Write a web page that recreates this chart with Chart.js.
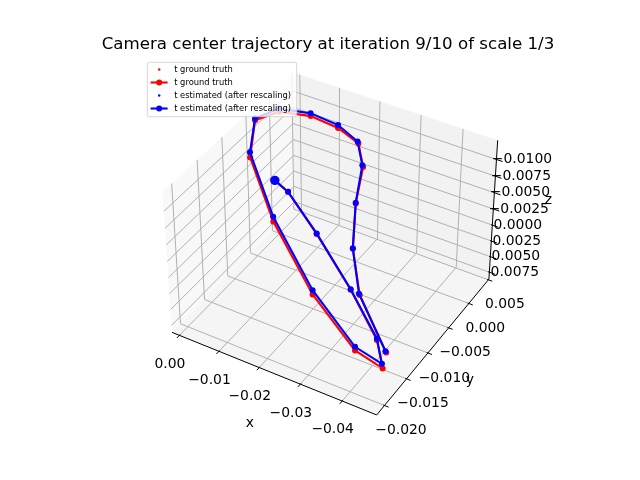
<!DOCTYPE html>
<html>
<head>
<meta charset="utf-8">
<script src="https://cdn.jsdelivr.net/npm/chart.js@4.4.1/dist/chart.umd.min.js"></script>
<style>
  html, body { margin: 0; padding: 0; background: #ffffff; }
  #wrap { width: 640px; height: 480px; }
</style>
</head>
<body>
<div id="wrap"><canvas id="chart" width="640" height="480"></canvas></div>
<script>
// camera centers, one entry per frame (x, y, z in world units)
const gtX = [-0.00827, -0.01152, -0.02006, -0.03073, -0.03946, -0.04271, -0.03662, -0.02463, -0.01145, -0.00156,
             0.00091, -0.00210, -0.00771, -0.01337, -0.01837, -0.02139, -0.02362, -0.02735, -0.03269, -0.04216];
const gtY = [-0.00775, -0.00775, -0.00916, -0.01135, -0.01356, -0.01528, -0.01580, -0.01419, -0.01094, -0.00721,
             -0.00393, -0.00127, 0.00068, 0.00173, 0.00178, 0.00007, -0.00367, -0.00776, -0.01113, -0.01399];
const gtZ = [-0.00707, -0.00604, -0.00256, 0.00192, 0.00590, 0.00815, 0.00645, 0.00195, -0.00377, -0.00870,
             -0.01159, -0.01175, -0.01098, -0.00969, -0.00836, -0.00659, -0.00411, -0.00094, 0.00243, 0.00683];

const estX = [-0.00827, -0.01152, -0.02006, -0.03073, -0.03946, -0.04252, -0.03662, -0.02463, -0.01145, -0.00156,
              0.00091, -0.00210, -0.00771, -0.01337, -0.01817, -0.02119, -0.02362, -0.02735, -0.03250, -0.04197];
const estY = [-0.00775, -0.00775, -0.00916, -0.01135, -0.01356, -0.01528, -0.01580, -0.01419, -0.01094, -0.00721,
              -0.00393, -0.00127, 0.00068, 0.00173, 0.00178, 0.00007, -0.00367, -0.00776, -0.01113, -0.01399];
const estZ = [-0.00707, -0.00604, -0.00264, 0.00182, 0.00566, 0.00748, 0.00587, 0.00128, -0.00449, -0.00946,
              -0.01186, -0.01222, -0.01139, -0.01012, -0.00862, -0.00682, -0.00422, -0.00102, 0.00227, 0.00667];

// axis limits (x and z are inverted) and ticks
const xLim = [0.0009, -0.0471];
const yLim = [-0.0212, 0.0046];
const zLim = [0.0082, -0.0124];

const xTicks = [0.00, -0.01, -0.02, -0.03, -0.04];
const xTickLabels = ['0.00', '\u22120.01', '\u22120.02', '\u22120.03', '\u22120.04'];
const yTicks = [-0.020, -0.015, -0.010, -0.005, 0.000, 0.005];
const yTickLabels = ['\u22120.020', '\u22120.015', '\u22120.010', '\u22120.005', '0.000', '0.005'];
const zTicks = [-0.0100, -0.0075, -0.0050, -0.0025, 0.0000, 0.0025, 0.0050, 0.0075];
const zTickLabels = ['\u22120.0100', '\u22120.0075', '\u22120.0050', '\u22120.0025', '0.0000', '0.0025', '0.0050', '0.0075'];

const legendLabels = ['t ground truth', 't ground truth', 't estimated (after rescaling)', 't estimated (after rescaling)'];
const titleText = 'Camera center trajectory at iteration 9/10 of scale 1/3';

// view of the 3d box
const VIEW_ELEV = 38.5, VIEW_AZIM = -59.5, VIEW_DIST = 10;
const LO = -1 / 48, HI = 1 + 1 / 48;
const FONT = '"DejaVu Sans", "Liberation Sans", sans-serif';

function buildCamera() {
  const n = Math.hypot(4, 4, 3);
  const box = [4, 4, 3].map(a => a * 1.8294640721620434 / n);
  const el = VIEW_ELEV * Math.PI / 180, az = VIEW_AZIM * Math.PI / 180;
  const w = [Math.cos(el) * Math.cos(az), Math.cos(el) * Math.sin(az), Math.sin(el)];
  const eye = box.map((b, i) => b / 2 + VIEW_DIST * w[i]);
  const ul = Math.hypot(w[0], w[1]);
  const u = [-w[1] / ul, w[0] / ul, 0];
  const v = [w[1] * u[2] - w[2] * u[1], w[2] * u[0] - w[0] * u[2], w[0] * u[1] - w[1] * u[0]];
  return { box, eye, u, v, w };
}
const cam = buildCamera();

// normalised box coords (0..1 per axis) -> 2d view coords
function projectNorm(a, b, c) {
  const p = [a * cam.box[0] - cam.eye[0], b * cam.box[1] - cam.eye[1], c * cam.box[2] - cam.eye[2]];
  const dot = q => q[0] * p[0] + q[1] * p[1] + q[2] * p[2];
  const depth = -dot(cam.w);
  return { x: dot(cam.u) / depth, y: dot(cam.v) / depth };
}
const nx = x => (x - xLim[0]) / (xLim[1] - xLim[0]);
const ny = y => (y - yLim[0]) / (yLim[1] - yLim[0]);
const nz = z => (z - zLim[0]) / (zLim[1] - zLim[0]);
const projectData = (x, y, z) => projectNorm(nx(x), ny(y), nz(z));

const gtPts = gtX.map((x, i) => projectData(x, gtY[i], gtZ[i]));
const estPts = estX.map((x, i) => projectData(x, estY[i], estZ[i]));

const RED = '#ff0000', BLUE = '#0000ff';

const frame3d = {
  id: 'frame3d',
  beforeDatasetsDraw(chart) {
    const ctx = chart.ctx;
    const sx = chart.scales.x, sy = chart.scales.y;
    const scr = (a, b, c) => {
      const p = projectNorm(a, b, c);
      return [sx.getPixelForValue(p.x), sy.getPixelForValue(p.y)];
    };
    const path = pts => {
      ctx.beginPath();
      pts.forEach((q, i) => {
        const p = scr(q[0], q[1], q[2]);
        if (i === 0) ctx.moveTo(p[0], p[1]); else ctx.lineTo(p[0], p[1]);
      });
    };
    ctx.save();

    // back panes
    const panes = [
      ['rgba(242,242,242,0.5)', [[LO, LO, LO], [LO, HI, LO], [LO, HI, HI], [LO, LO, HI]]],
      ['rgba(230,230,230,0.5)', [[LO, HI, LO], [HI, HI, LO], [HI, HI, HI], [LO, HI, HI]]],
      ['rgba(236,236,236,0.5)', [[LO, LO, LO], [HI, LO, LO], [HI, HI, LO], [LO, HI, LO]]]
    ];
    panes.forEach(([color, pts]) => {
      path(pts);
      ctx.closePath();
      ctx.fillStyle = color;
      ctx.fill();
    });

    // grid
    ctx.strokeStyle = '#b0b0b0';
    ctx.lineWidth = 1;
    xTicks.forEach(t => { const a = nx(t); path([[a, LO, LO], [a, HI, LO], [a, HI, HI]]); ctx.stroke(); });
    yTicks.forEach(t => { const b = ny(t); path([[HI, b, LO], [LO, b, LO], [LO, b, HI]]); ctx.stroke(); });
    zTicks.forEach(t => { const c = nz(t); path([[LO, LO, c], [LO, HI, c], [HI, HI, c]]); ctx.stroke(); });

    // axis lines
    ctx.strokeStyle = '#000000';
    ctx.lineWidth = 1;
    path([[LO, LO, LO], [HI, LO, LO]]); ctx.stroke();
    path([[HI, LO, LO], [HI, HI, LO]]); ctx.stroke();
    path([[HI, HI, LO], [HI, HI, HI]]); ctx.stroke();

    // ticks and tick labels
    ctx.font = '13.9px ' + FONT;
    ctx.fillStyle = '#000000';
    ctx.textAlign = 'center';
    ctx.textBaseline = 'middle';
    xTicks.forEach((t, i) => {
      const a = nx(t);
      path([[a, LO - 0.02, LO], [a, LO + 0.006, LO]]); ctx.stroke();
      const p = scr(a, LO, LO);
      ctx.fillText(xTickLabels[i], p[0] - 9.5, p[1] + 28.8);
    });
    yTicks.forEach((t, i) => {
      const b = ny(t);
      path([[HI + 0.02, b, LO], [HI - 0.006, b, LO]]); ctx.stroke();
      const p = scr(HI, b, LO);
      ctx.fillText(yTickLabels[i], p[0] + 16.5, p[1] + 25);
    });
    zTicks.forEach((t, i) => {
      const c = nz(t);
      path([[HI + 0.03, HI, c], [HI - 0.006, HI, c]]); ctx.stroke();
      const p = scr(HI, HI, c);
      ctx.fillText(zTickLabels[i], p[0] + 25.5, p[1]);
    });

    // axis labels
    const mx = scr(0.5, LO, LO), my = scr(HI, 0.5, LO), mz = scr(HI, HI, 0.5);
    ctx.fillText('x', mx[0] - 22, mx[1] + 50.4);
    ctx.fillText('y', my[0] + 34.8, my[1] + 35.8);
    ctx.fillText('z', mz[0] + 55.2, mz[1] - 11.6);
    ctx.restore();
  },
  afterDraw(chart) {
    const ctx = chart.ctx;
    ctx.save();
    // title
    ctx.font = '16.67px ' + FONT;
    ctx.fillStyle = '#000000';
    ctx.textAlign = 'center';
    ctx.textBaseline = 'alphabetic';
    ctx.fillText(titleText, 328, 49.3);

    // legend
    const bx = 147.3, by = 62.3, bw = 149.4, bh = 54.4;
    ctx.beginPath();
    ctx.roundRect(bx, by, bw, bh, 2);
    ctx.fillStyle = 'rgba(255,255,255,0.8)';
    ctx.fill();
    ctx.strokeStyle = 'rgba(204,204,204,0.8)';
    ctx.lineWidth = 1;
    ctx.stroke();
    const colors = [RED, RED, BLUE, BLUE];
    ctx.font = '8.33px ' + FONT;
    ctx.textAlign = 'left';
    ctx.textBaseline = 'middle';
    legendLabels.forEach((label, i) => {
      const ry = 69.5 + i * 13;
      ctx.fillStyle = colors[i];
      ctx.strokeStyle = colors[i];
      if (i % 2 === 0) {
        ctx.beginPath(); ctx.arc(159.2, ry, 1.2, 0, Math.PI * 2); ctx.fill();
      } else {
        ctx.lineWidth = 2.1;
        ctx.beginPath(); ctx.moveTo(150.6, ry); ctx.lineTo(167.6, ry); ctx.stroke();
        ctx.beginPath(); ctx.arc(159.2, ry, 3, 0, Math.PI * 2); ctx.fill();
      }
      ctx.fillStyle = '#000000';
      ctx.fillText(label, 174.2, ry);
    });
    ctx.restore();
  }
};

new Chart(document.getElementById('chart'), {
  type: 'scatter',
  data: {
    datasets: [
      { label: 'start', data: [estPts[0]], pointRadius: 4.7, pointBackgroundColor: BLUE, pointBorderWidth: 0, order: 0 },
      { label: legendLabels[3], data: estPts, showLine: true, borderColor: BLUE, borderWidth: 2.1,
        pointRadius: 3, pointBackgroundColor: BLUE, pointBorderWidth: 0, order: 1 },
      { label: legendLabels[2], data: estPts, pointRadius: 1.2, pointBackgroundColor: BLUE, pointBorderWidth: 0, order: 2 },
      { label: legendLabels[1], data: gtPts, showLine: true, borderColor: RED, borderWidth: 2.1,
        pointRadius: 3, pointBackgroundColor: RED, pointBorderWidth: 0, order: 3 },
      { label: legendLabels[0], data: gtPts, pointRadius: 1.2, pointBackgroundColor: RED, pointBorderWidth: 0, order: 4 }
    ]
  },
  options: {
    responsive: false,
    animation: false,
    devicePixelRatio: 1,
    layout: { padding: { left: 143.2, right: 127.2, top: 57.6, bottom: 52.8 } },
    scales: {
      x: { type: 'linear', min: -0.095, max: 0.09, display: false },
      y: { type: 'linear', min: -0.095, max: 0.09, display: false }
    },
    elements: { line: { tension: 0 }, point: { hoverRadius: 0 } },
    plugins: { legend: { display: false }, tooltip: { enabled: false }, title: { display: false } }
  },
  plugins: [frame3d]
});
</script>
</body>
</html>
